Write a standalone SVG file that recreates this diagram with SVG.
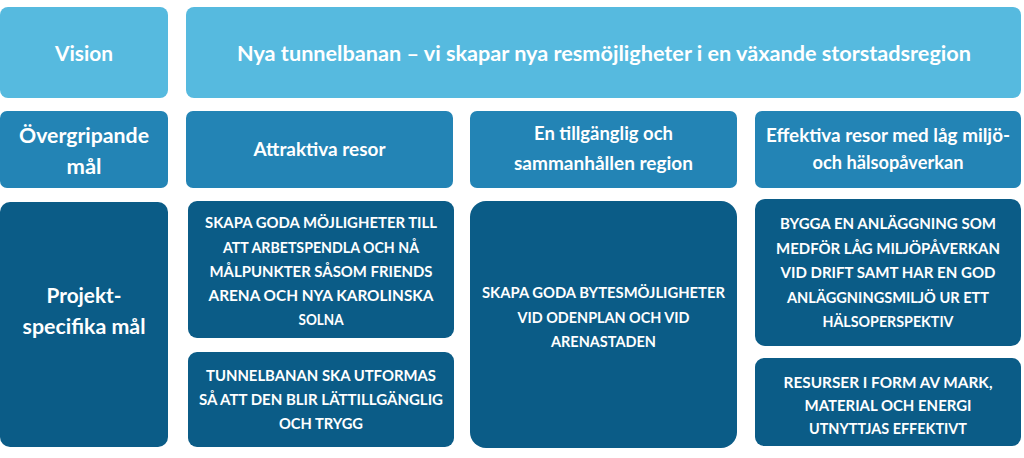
<svg xmlns="http://www.w3.org/2000/svg" width="1024" height="458" viewBox="0 0 1024 458">
<style>
.l1{fill:#56BADF}
.l2{fill:#2384B5}
.l3{fill:#0B5C87}
text{font-family:Lato,"Open Sans","Liberation Sans",sans-serif;font-weight:bold;fill:#fff;text-anchor:middle}
.h{font-size:21px}
.k{font-size:20.5px}
.m{font-size:19px}
.s{font-size:14.5px}
</style>
<rect width="1024" height="458" fill="#fff"/>
<g id="vision"><rect class="l1" x="0" y="7" width="168" height="91" rx="8"/><text class="h" x="84" y="61" textLength="58" lengthAdjust="spacingAndGlyphs">Vision</text></g>
<g id="vision-text"><rect class="l1" x="186" y="7" width="835" height="91" rx="8"/><text class="h" x="604" y="61" textLength="734" lengthAdjust="spacingAndGlyphs">Nya tunnelbanan – vi skapar nya resmöjligheter i en växande storstadsregion</text></g>
<g id="overgripande"><rect class="l2" x="0" y="111" width="168" height="77" rx="7"/><text class="k" x="84" y="143" textLength="130" lengthAdjust="spacingAndGlyphs">Övergripande</text><text class="k" x="84" y="174" textLength="35" lengthAdjust="spacingAndGlyphs">mål</text></g>
<g id="attraktiva"><rect class="l2" x="186" y="111" width="267" height="77" rx="7"/><text class="m" x="319.5" y="156" textLength="132" lengthAdjust="spacingAndGlyphs">Attraktiva resor</text></g>
<g id="tillganglig"><rect class="l2" x="470" y="111" width="267" height="77" rx="7"/><text class="m" x="603.5" y="140" textLength="139" lengthAdjust="spacingAndGlyphs">En tillgänglig och</text><text class="m" x="603.5" y="170" textLength="179" lengthAdjust="spacingAndGlyphs">sammanhållen region</text></g>
<g id="effektiva"><rect class="l2" x="755" y="111" width="266" height="77" rx="7"/><text class="m" x="888" y="142" textLength="244" lengthAdjust="spacingAndGlyphs">Effektiva resor med låg miljö-</text><text class="m" x="888" y="169" textLength="151" lengthAdjust="spacingAndGlyphs">och hälsopåverkan</text></g>
<g id="projekt"><rect class="l3" x="0" y="202" width="168" height="245" rx="10"/><text class="k" x="84" y="303" textLength="75" lengthAdjust="spacingAndGlyphs">Projekt-</text><text class="k" x="84" y="334" textLength="123" lengthAdjust="spacingAndGlyphs">specifika mål</text></g>
<g id="p1"><rect class="l3" x="188" y="201" width="266" height="137" rx="9"/>
<text class="s" x="321" y="227.5" textLength="232" lengthAdjust="spacingAndGlyphs">SKAPA GODA MÖJLIGHETER TILL</text>
<text class="s" x="321" y="252.5" textLength="196" lengthAdjust="spacingAndGlyphs">ATT ARBETSPENDLA OCH NÅ</text>
<text class="s" x="321" y="276.5" textLength="223" lengthAdjust="spacingAndGlyphs">MÅLPUNKTER SÅSOM FRIENDS</text>
<text class="s" x="321" y="300.5" textLength="225" lengthAdjust="spacingAndGlyphs">ARENA OCH NYA KAROLINSKA</text>
<text class="s" x="321" y="324.5" textLength="45" lengthAdjust="spacingAndGlyphs">SOLNA</text></g>
<g id="p2"><rect class="l3" x="188" y="352" width="266" height="95" rx="9"/>
<text class="s" x="321" y="380.5" textLength="230" lengthAdjust="spacingAndGlyphs">TUNNELBANAN SKA UTFORMAS</text>
<text class="s" x="321" y="404.5" textLength="244" lengthAdjust="spacingAndGlyphs">SÅ ATT DEN BLIR LÄTTILLGÄNGLIG</text>
<text class="s" x="321" y="428.5" textLength="84" lengthAdjust="spacingAndGlyphs">OCH TRYGG</text></g>
<g id="p3"><rect class="l3" x="470" y="201" width="267" height="247" rx="16"/>
<text class="s" x="603.5" y="297.5" textLength="243" lengthAdjust="spacingAndGlyphs">SKAPA GODA BYTESMÖJLIGHETER</text>
<text class="s" x="603.5" y="322.5" textLength="172" lengthAdjust="spacingAndGlyphs">VID ODENPLAN OCH VID</text>
<text class="s" x="603.5" y="346.5" textLength="105" lengthAdjust="spacingAndGlyphs">ARENASTADEN</text></g>
<g id="p4"><rect class="l3" x="755" y="199" width="266" height="147" rx="10"/>
<text class="s" x="888" y="228.5" textLength="216" lengthAdjust="spacingAndGlyphs">BYGGA EN ANLÄGGNING SOM</text>
<text class="s" x="888" y="253.5" textLength="224" lengthAdjust="spacingAndGlyphs">MEDFÖR LÅG MILJÖPÅVERKAN</text>
<text class="s" x="888" y="277.5" textLength="215" lengthAdjust="spacingAndGlyphs">VID DRIFT SAMT HAR EN GOD</text>
<text class="s" x="888" y="302.5" textLength="202" lengthAdjust="spacingAndGlyphs">ANLÄGGNINGSMILJÖ UR ETT</text>
<text class="s" x="888" y="326.5" textLength="131" lengthAdjust="spacingAndGlyphs">HÄLSOPERSPEKTIV</text></g>
<g id="p5"><rect class="l3" x="755" y="358" width="266" height="88" rx="9"/>
<text class="s" x="888" y="387.5" textLength="209" lengthAdjust="spacingAndGlyphs">RESURSER I FORM AV MARK,</text>
<text class="s" x="888" y="410.5" textLength="167" lengthAdjust="spacingAndGlyphs">MATERIAL OCH ENERGI</text>
<text class="s" x="888" y="433.5" textLength="158" lengthAdjust="spacingAndGlyphs">UTNYTTJAS EFFEKTIVT</text></g>
<g id="connectors"/>
</svg>
